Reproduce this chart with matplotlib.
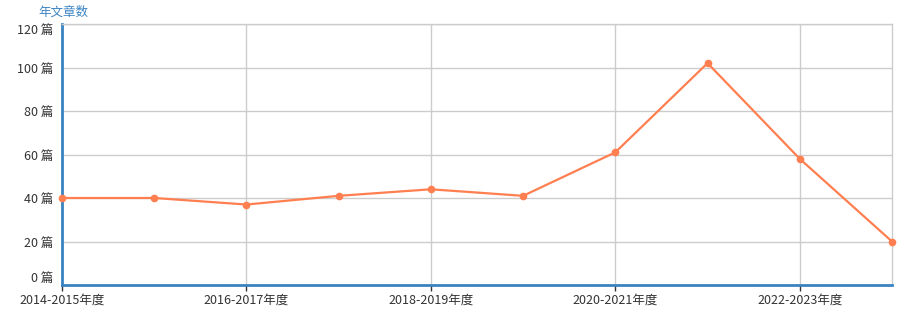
import matplotlib
matplotlib.use("Agg")
import matplotlib.pyplot as plt

plt.rcParams['font.family'] = ['Noto Sans CJK SC', 'DejaVu Sans']

# Data
years = ["2014-2015年度", "2015-2016年度", "2016-2017年度", "2017-2018年度",
         "2018-2019年度", "2019-2020年度", "2020-2021年度", "2021-2022年度",
         "2022-2023年度", "2023-2024年度"]
counts = [40, 40, 37, 41, 44, 41, 61, 102, 58, 20]
yticks = [0, 20, 40, 60, 80, 100, 120]

W, H = 905, 328
fig = plt.figure(figsize=(W / 100, H / 100), dpi=100)
ax = fig.add_axes([62 / W, (H - 285) / H, (892 - 62) / W, (285 - 24) / H])

x = list(range(len(years)))
ax.plot(x, counts, color='#ff7f50', lw=1.6, marker='o', ms=4.5, zorder=3, clip_on=False)

ax.set_xlim(0, len(years) - 1)
ax.set_ylim(0, 120)

ax.set_yticks(yticks)
ylabels = ax.set_yticklabels([f"{v} 篇" for v in yticks])
ylabels[0].set_verticalalignment('bottom')
ylabels[-1].set_verticalalignment('top')
ax.tick_params(axis='y', length=0, pad=6, labelsize=9, labelcolor='#333333')

ax.set_xticks(x[::2])
ax.set_xticklabels(years[::2])
ax.tick_params(axis='x', length=4, width=1, color='#333333', pad=2, labelsize=9, labelcolor='#333333')

ax.grid(True, color='#cccccc', lw=1)
ax.set_axisbelow(True)

for side in ['top', 'right']:
    ax.spines[side].set_color('#cccccc')
    ax.spines[side].set_linewidth(1)
for side in ['left', 'bottom']:
    ax.spines[side].set_color('#3a83c2')
    ax.spines[side].set_linewidth(2)

fig.text(38 / W, 1 - 12 / H, "年文章数", color='#3a83c2', fontsize=9, va='center', ha='left')

fig.savefig("out.png", dpi=100)
